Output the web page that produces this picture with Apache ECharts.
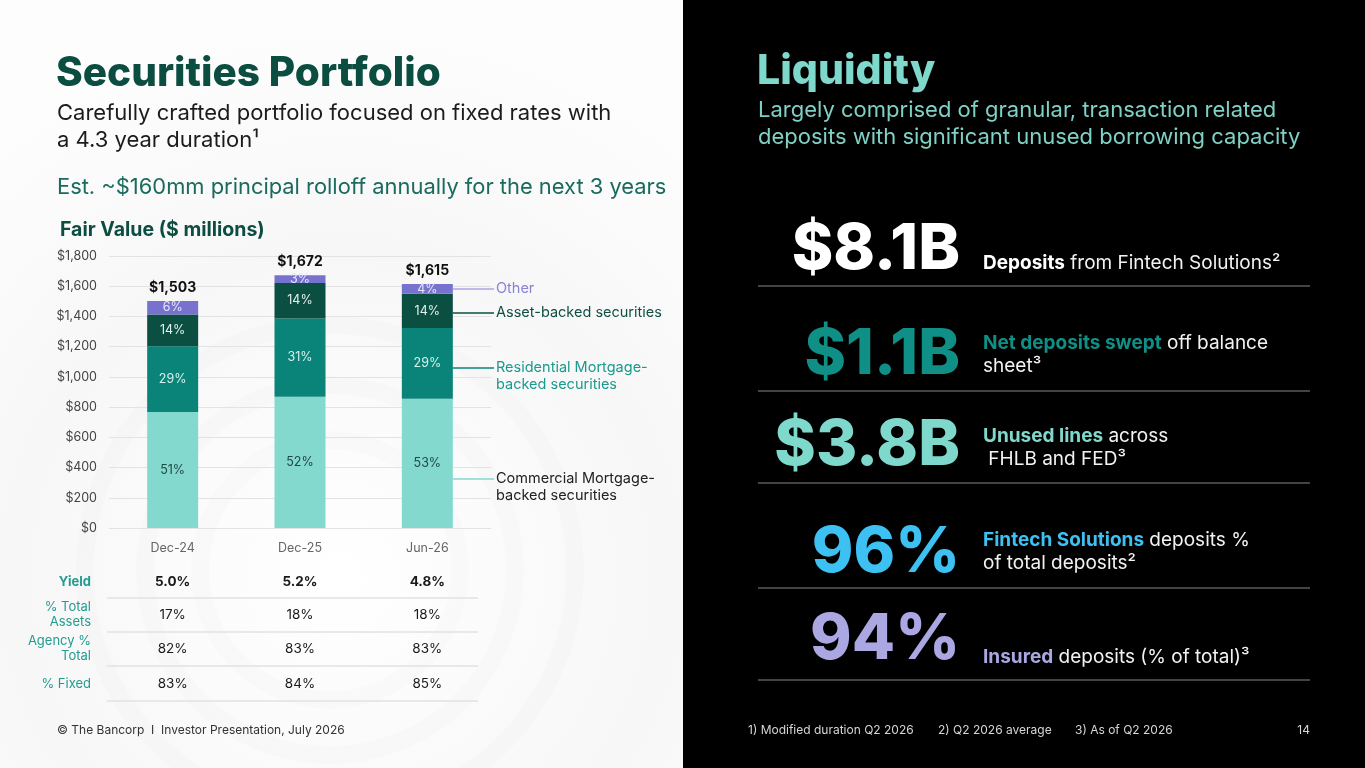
<!DOCTYPE html>
<html>
<head>
<meta charset="utf-8">
<title>Securities Portfolio / Liquidity</title>
<script src="https://cdn.jsdelivr.net/npm/echarts@6/dist/echarts.min.js"></script>
<style>
    html, body { margin: 0; padding: 0; background: #000; }
    #slide { width: 1365px; height: 768px; }
</style>
</head>
<body>
<div id="slide"></div>
<script>
// Fair value ($ millions) by segment
const categories = ['Dec-24', 'Dec-25', 'Jun-26'];
const commercialMbs = [767, 869, 856];
const residentialMbs = [436, 518, 468];
const assetBacked = [210, 234, 226];
const otherSecurities = [90, 51, 65];
const totals = [1503, 1672, 1615];

const commercialPct = ['51%', '52%', '53%'];
const residentialPct = ['29%', '31%', '29%'];
const assetBackedPct = ['14%', '14%', '14%'];
const otherPct = ['6%', '3%', '4%'];

// table under the chart
const tableLabels = ['Yield', '% Total\nAssets', 'Agency %\nTotal', '% Fixed'];
const yieldRow = ['5.0%', '5.2%', '4.8%'];
const totalAssetsRow = ['17%', '18%', '18%'];
const agencyRow = ['82%', '83%', '83%'];
const fixedRow = ['83%', '84%', '85%'];

// liquidity KPIs
const kpiValues = ['$8.1B', '$1.1B', '$3.8B', '96%', '94%'];
const kpiHighlights = ['Deposits', 'Net deposits swept', 'Unused lines', 'Fintech Solutions', 'Insured'];
const kpiRest = [' from Fintech Solutions²', ' off balance\nsheet³', ' across\n FHLB and FED³', ' deposits %\nof total deposits²', ' deposits (% of total)³'];
const kpiColors = ['#ffffff', '#0f8f86', '#7fd8cc', '#3cc1f2', '#aaa7e2'];

const footnotes = ['1) Modified duration Q2 2026', '2) Q2 2026 average', '3) As of Q2 2026'];

const FONT = 'Inter, "Noto Sans", sans-serif';
const COLORS = {
    commercial: '#84d9cf',
    residential: '#0a8379',
    assetBacked: '#0b4f43',
    other: '#7872cf',
};

const chart = echarts.init(document.getElementById('slide'));

function segmentSeries(name, data, pcts, color, labelColor) {
    return {
        name,
        type: 'bar',
        stack: 'fairValue',
        data,
        barWidth: 51,
        itemStyle: { color },
        emphasis: { disabled: true },
        label: {
            show: true,
            position: 'inside',
            color: labelColor,
            fontFamily: FONT,
            fontSize: 12.5,
            formatter: (p) => pcts[p.dataIndex],
        },
    };
}

function txt(x, y, text, font, fill, extra = {}) {
    return {
        type: 'text',
        x,
        y,
        silent: true,
        style: Object.assign({ text, font, fill, textVerticalAlign: 'middle' }, extra),
    };
}

chart.setOption({
    animation: false,
    backgroundColor: '#ffffff',
    grid: { left: 109, right: 874, top: 256, bottom: 240 },
    xAxis: {
        type: 'category',
        data: categories,
        axisLine: { show: false },
        axisTick: { show: false },
        axisLabel: { color: '#666', fontFamily: FONT, fontSize: 12.5, margin: 14 },
    },
    yAxis: {
        type: 'value',
        min: 0,
        max: 1800,
        interval: 200,
        axisLine: { show: false },
        axisTick: { show: false },
        splitLine: { lineStyle: { color: '#e3e3e3', width: 1 } },
        axisLabel: {
            color: '#444',
            fontFamily: FONT,
            fontSize: 12.5,
            margin: 12,
            formatter: (v) => '$' + v.toLocaleString('en-US'),
        },
    },
    series: [
        segmentSeries('Commercial Mortgage-backed securities', commercialMbs, commercialPct, COLORS.commercial, '#1e4843'),
        segmentSeries('Residential Mortgage-backed securities', residentialMbs, residentialPct, COLORS.residential, '#d3f3ee'),
        segmentSeries('Asset-backed securities', assetBacked, assetBackedPct, COLORS.assetBacked, '#e3f1ee'),
        segmentSeries('Other', otherSecurities, otherPct, COLORS.other, '#e6e4fb'),
        {
            name: 'Total',
            type: 'line',
            data: totals,
            symbol: 'circle',
            symbolSize: 1,
            itemStyle: { color: 'rgba(0,0,0,0)' },
            lineStyle: { width: 0, opacity: 0 },
            emphasis: { disabled: true },
            label: {
                show: true,
                position: 'top',
                distance: 6,
                color: '#111',
                fontFamily: FONT,
                fontWeight: 'bold',
                fontSize: 14,
                formatter: (p) => '$' + p.value.toLocaleString('en-US'),
            },
        },
    ],
});

function buildGraphics() {
    const g = [];

    // panels
    g.push({
        type: 'rect', z: -10, silent: true,
        shape: { x: 0, y: 0, width: 683, height: 768 },
        style: {
            fill: new echarts.graphic.RadialGradient(0.5, 0.75, 0.8, [
                { offset: 0, color: '#ffffff' },
                { offset: 0.6, color: '#f7f7f7' },
                { offset: 1, color: '#fdfdfd' },
            ]),
        },
    });
    [130, 185, 245].forEach((r) => {
        g.push({
            type: 'circle', z: -9, silent: true,
            shape: { cx: 330, cy: 570, r },
            style: { fill: 'none', stroke: 'rgba(0,0,0,0.012)', lineWidth: 18 },
        });
    });
    g.push({
        type: 'rect', z: -5, silent: true,
        shape: { x: 683, y: 0, width: 682, height: 768 },
        style: { fill: '#000' },
    });

    // left header
    g.push(txt(56, 74, 'Securities Portfolio', `800 40.5px ${FONT}`, '#0b4d40'));
    g.push(txt(57, 100, 'Carefully crafted portfolio focused on fixed rates with\na 4.3 year duration¹', `400 22px ${FONT}`, '#1c1c1c', { lineHeight: 27, textVerticalAlign: 'top' }));
    g.push(txt(57, 187, 'Est. ~$160mm principal rolloff annually for the next 3 years', `400 21.9px ${FONT}`, '#1b6a5e'));
    g.push(txt(60, 230, 'Fair Value ($ millions)', `700 19.5px ${FONT}`, '#0b4d40'));

    // callouts from the Jun-26 bar
    const lastX = chart.convertToPixel({ xAxisIndex: 0 }, categories[2]);
    const barRight = lastX + 25.5;
    const callouts = [
        { y: 289, text: 'Other', line: '#aaa5e6', fill: '#8a84d8' },
        { y: 313, text: 'Asset-backed securities', line: COLORS.assetBacked, fill: '#0f4f44' },
        { y: 368, text: 'Residential Mortgage-\nbacked securities', line: COLORS.residential, fill: '#1b9a8d' },
        { y: 479, text: 'Commercial Mortgage-\nbacked securities', line: COLORS.commercial, fill: '#222' },
    ];
    callouts.forEach((c) => {
        g.push({
            type: 'line', silent: true, z: 5,
            shape: { x1: barRight, y1: c.y, x2: 494, y2: c.y },
            style: { stroke: c.line, lineWidth: 1.5 },
        });
        g.push(txt(496, c.y - 9, c.text, `400 14.5px ${FONT}`, c.fill, { lineHeight: 17, textVerticalAlign: 'top' }));
    });

    // table
    const colX = categories.map((c) => chart.convertToPixel({ xAxisIndex: 0 }, c));
    const rowY = [582, 615, 649, 684];
    const rows = [yieldRow, totalAssetsRow, agencyRow, fixedRow];
    const sepY = [598, 632, 666, 701];
    rows.forEach((row, i) => {
        const bold = i === 0;
        g.push(txt(91, rowY[i], tableLabels[i], `${bold ? 700 : 400} 13px ${FONT}`, '#239c8f', { textAlign: 'right', lineHeight: 15 }));
        row.forEach((v, j) => {
            g.push(txt(colX[j], rowY[i], v, `${bold ? 700 : 400} 13.5px ${FONT}`, '#1a1a1a', { textAlign: 'center' }));
        });
        g.push({
            type: 'line', silent: true,
            shape: { x1: 107, y1: sepY[i], x2: 478, y2: sepY[i] },
            style: { stroke: '#e2e2e2', lineWidth: 1.5 },
        });
    });
    g.push(txt(57, 730, '© The Bancorp  I  Investor Presentation, July 2026', `400 12px ${FONT}`, '#333'));

    // right header
    g.push(txt(757, 72, 'Liquidity', `800 41px ${FONT}`, '#7fd8cc'));
    g.push(txt(758, 97, 'Largely comprised of granular, transaction related\ndeposits with significant unused borrowing capacity', `400 22px ${FONT}`, '#7fd0c5', { lineHeight: 27, textVerticalAlign: 'top' }));

    // KPIs
    const kpiY = [250, 355, 446, 553, 640];
    const descY = [263, 355, 448, 552, 657];
    const sepRight = [286, 391, 483, 588, 680];
    kpiValues.forEach((v, i) => {
        g.push(txt(960, kpiY[i], v, `800 63px ${FONT}`, kpiColors[i], { textAlign: 'right' }));
        g.push({
            type: 'text', x: 983, y: descY[i], silent: true,
            style: {
                text: `{h|${kpiHighlights[i]}}{n|${kpiRest[i]}}`,
                textVerticalAlign: 'middle',
                font: `400 19px ${FONT}`,
                fill: '#fff',
                lineHeight: 23,
                rich: {
                    h: { fill: kpiColors[i], fontWeight: 700, fontSize: 19, fontFamily: FONT, lineHeight: 23 },
                    n: { fill: '#f2f2f2', fontWeight: 400, fontSize: 19, fontFamily: FONT, lineHeight: 23 },
                },
            },
        });
        g.push({
            type: 'line', silent: true,
            shape: { x1: 758, y1: sepRight[i], x2: 1310, y2: sepRight[i] },
            style: { stroke: '#5a5a5a', lineWidth: 1.5 },
        });
    });

    // footnotes
    const footX = [748, 938, 1075];
    footnotes.forEach((f, i) => g.push(txt(footX[i], 730, f, `400 12px ${FONT}`, '#d6d6d6')));
    g.push(txt(1310, 730, '14', `400 12px ${FONT}`, '#d6d6d6', { textAlign: 'right' }));

    return g;
}

chart.setOption({ graphic: { elements: buildGraphics() } });
</script>
</body>
</html>
